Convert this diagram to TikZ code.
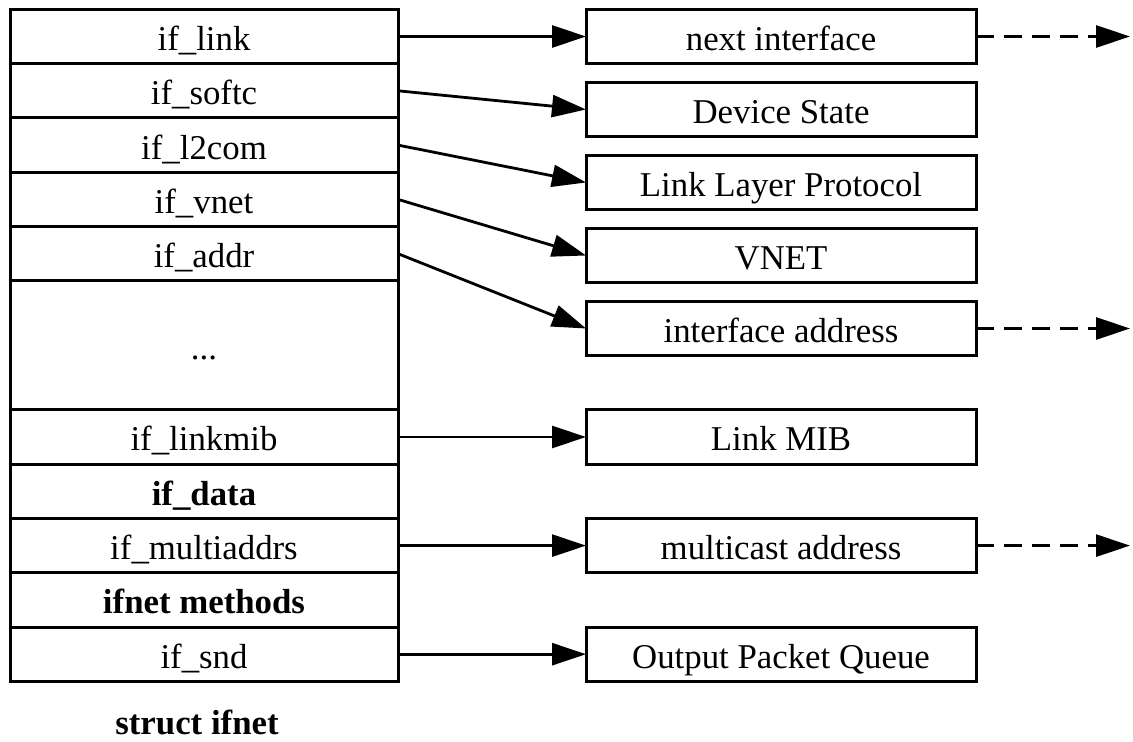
\documentclass[tikz,border=0pt]{standalone}
\usepackage{fontspec}
\setmainfont{Liberation Serif}
\usetikzlibrary{positioning, arrows.meta}

\begin{document}
\begin{tikzpicture}[
		node distance=0pt,
		font=\fontsize{17.4}{20}\selectfont,
		field/.style={draw, line width=1.5pt, outer sep=0pt, minimum width=194pt,
			minimum height=27.15pt, text height=14pt, text depth=0pt},
		target/.style={draw, line width=1.5pt, outer sep=0pt, minimum width=195pt,
			minimum height=27pt, text height=14pt, text depth=0pt},
		ptr/.style={-{Triangle[length=17pt, width=11pt]}, line width=1.4pt},
		more/.style={ptr, dash pattern=on 9pt off 5pt}
		]
		\useasboundingbox (0,0) rectangle (566.5pt,-371pt);
		
		% --- struct ifnet (left column) ---
		\node[field] (link) at (102pt,-18.25pt) {if\_link};
		\node[field] (softc) [below=of link] {if\_softc};
		\node[field] (ltwocom) [below=of softc] {if\_l2com};
		\node[field] (vnet) [below=of ltwocom] {if\_vnet};
		\node[field] (addr) [below=of vnet] {if\_addr};
		\node[field, minimum height=64.5pt] (dots) [below=of addr] {...};
		\node[field] (linkmib) [below=of dots] {if\_linkmib};
		\node[field, font=\fontsize{17.4}{20}\selectfont\bfseries] (data) [below=of linkmib] {if\_data};
		\node[field] (multi) [below=of data] {if\_multiaddrs};
		\node[field, font=\fontsize{17.4}{20}\selectfont\bfseries] (methods) [below=of multi] {ifnet methods};
		\node[field] (snd) [below=of methods] {if\_snd};
		
		\node[font=\fontsize{17.4}{20}\selectfont\bfseries, text height=14pt, text depth=0pt]
		(title) [below=9pt of snd, xshift=-3.5pt] {struct ifnet};
		
		% --- Pointed-to structures ---
		\node[target] (next) [right=94pt of link] {next interface};
		\node[target] (state) [below=9.5pt of next] {Device State};
		\node[target] (proto) [below=9.5pt of state] {Link Layer Protocol};
		\node[target] (vnetbox) [below=9.5pt of proto] {VNET};
		\node[target] (ifaddr) [below=9.5pt of vnetbox] {interface address};
		\node[target] (mib) [right=94pt of linkmib] {Link MIB};
		\node[target] (mcast) [right=94pt of multi] {multicast address};
		\node[target] (queue) [right=94pt of snd] {Output Packet Queue};
		
		% Pointers
		\draw[ptr] (link.east) -- (next.west);
		\draw[ptr] (softc.east) -- (state.west);
		\draw[ptr] (ltwocom.east) -- (proto.west);
		\draw[ptr] (vnet.east) -- (vnetbox.west);
		\draw[ptr] (addr.east) -- (ifaddr.west);
		\draw[ptr] (linkmib.east) -- (mib.west);
		\draw[ptr] (multi.east) -- (mcast.west);
		\draw[ptr] (snd.east) -- (queue.west);
		
		% --- Lists continue (dashed) ---
		\coordinate[right=77pt of next] (nextout);
		\coordinate[right=77pt of ifaddr] (ifaddrout);
		\coordinate[right=77pt of mcast] (mcastout);
		\draw[more] (next.east) -- (nextout);
		\draw[more] (ifaddr.east) -- (ifaddrout);
		\draw[more] (mcast.east) -- (mcastout);
		
	\end{tikzpicture}
\end{document}
